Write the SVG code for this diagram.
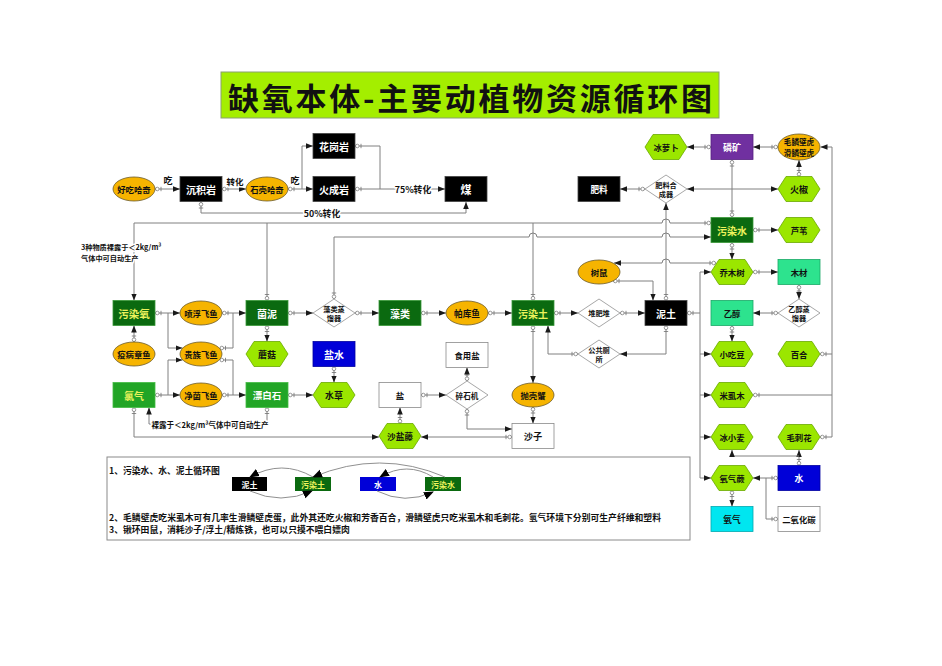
<svg xmlns="http://www.w3.org/2000/svg" width="942" height="666" viewBox="0 0 942 666">
<style>
.t{font-family:"Noto Sans CJK SC","Noto Sans",sans-serif;font-weight:bold;text-anchor:middle;dominant-baseline:central;font-size:10px}
.ts{font-size:8.4px}
.td{font-size:7.2px}
.w{fill:#fff}
.y{fill:#ecf25c}
.k{fill:#111}
.blk{fill:#000;stroke:#444;stroke-width:.8}
.dg{fill:#0b6a10;stroke:#3a9a3a;stroke-width:.8}
.mg{fill:#22a526;stroke:#44bb44;stroke-width:.8}
.sg{fill:#2de38e;stroke:#1aa866;stroke-width:.8}
.pu{fill:#7030a0;stroke:#55207f;stroke-width:.8}
.bl{fill:#0000d8;stroke:#0000a0;stroke-width:.8}
.cy{fill:#00e6f0;stroke:#00a8b0;stroke-width:.8}
.wb{fill:#fff;stroke:#8a8a8a;stroke-width:.8}
.hex{fill:#9be600;stroke:#6aa800;stroke-width:.8}
.ell{fill:#f6b400;stroke:#6b5a2a;stroke-width:.8}
.dia{fill:#fff;stroke:#909090;stroke-width:.8}
.ln{fill:none;stroke:#808080;stroke-width:1}
.lg{fill:none;stroke:#909090;stroke-width:1}
.lbl{font-family:"Noto Sans CJK SC","Noto Sans",sans-serif;font-weight:bold;fill:#111;paint-order:stroke;stroke:#fff;stroke-width:3px;stroke-linejoin:round;dominant-baseline:central}
.note{font-family:"Noto Sans CJK SC","Noto Sans",sans-serif;font-weight:bold;font-size:8.8px;fill:#111;dominant-baseline:central}
</style>
<defs>
<marker id="a" viewBox="0 0 8 8" refX="8" refY="4" markerWidth="7" markerHeight="7" markerUnits="userSpaceOnUse" orient="auto"><path d="M0,0.8 L8,4 L0,7.2z" fill="#1a1a1a"/></marker>
<marker id="s" viewBox="0 0 8 6" refX="0" refY="3" markerWidth="8" markerHeight="6" markerUnits="userSpaceOnUse" orient="auto"><circle cx="2.3" cy="3" r="1.8" fill="#fff" stroke="#707070" stroke-width=".7"/><path d="M6,0.8V5.2" stroke="#707070" stroke-width=".8"/></marker>
<marker id="aL" viewBox="0 0 10 10" refX="9" refY="5" markerWidth="10" markerHeight="10" markerUnits="userSpaceOnUse" orient="auto"><path d="M0,1 L10,5 L0,9z" fill="#000"/></marker>
<rect id="box" x="-21" y="-12.5" width="42" height="25"/>
<polygon id="hx" points="-21,0 -13,-12.5 13,-12.5 21,0 13,12.5 -13,12.5"/>
<ellipse id="el" rx="21" ry="12"/>
<polygon id="dm" points="-21,0 0,-14 21,0 0,14"/>
</defs>
<rect width="942" height="666" fill="#fff"/>

<g id="title">
<rect x="221" y="72" width="498" height="46" fill="#a4ee00" stroke="#8aa070" stroke-width="1"/>
<text x="470" y="96" font-family="'Noto Sans CJK SC',sans-serif" font-weight="bold" font-size="31" text-anchor="middle" dominant-baseline="central" textLength="484" lengthAdjust="spacing" fill="#111">缺氧本体-主要动植物资源循环图</text>
</g>

<g id="connectors">
<path class="ln" marker-start="url(#s)" marker-end="url(#a)" d="M155,189 H180"/>
<path class="ln" marker-start="url(#s)" marker-end="url(#a)" d="M222,189 H246"/>
<path class="ln" marker-start="url(#s)" marker-end="url(#a)" d="M288,189 H313"/>
<path class="ln" marker-end="url(#a)" d="M302,189 V146 H313"/>
<path class="ln" marker-start="url(#s)" marker-end="url(#a)" d="M355,189 H445"/>
<path class="ln" marker-start="url(#s)" d="M355,146 H380 V189"/>
<path class="ln" marker-start="url(#s)" marker-end="url(#a)" d="M201,202 V213 H466 V202"/>
<path class="ln" marker-start="url(#s)" marker-end="url(#a)" d="M711,147 H687"/>
<path class="ln" marker-start="url(#s)" marker-end="url(#a)" d="M778,147 H753"/>
<path class="ln" marker-start="url(#s)" marker-end="url(#a)" d="M645,189 H620"/>
<path class="ln" marker-end="url(#a)" d="M732,189 H687"/>
<path class="ln" marker-end="url(#a)" d="M732,189 H778"/>
<path class="ln" marker-start="url(#s)" d="M732,160 V189"/>
<path class="ln" marker-start="url(#s)" d="M732,217 V189"/>
<path class="ln" marker-start="url(#s)" marker-end="url(#a)" d="M799,176.5 V160"/>
<path class="ln" marker-start="url(#s)" marker-end="url(#a)" d="M753,230 H778"/>
<path class="ln" marker-start="url(#s)" marker-end="url(#a)" d="M732,243 V259.5"/>
<path class="ln" marker-start="url(#s)" marker-end="url(#a)" d="M753,272 H778"/>
<path class="ln" marker-start="url(#s)" marker-end="url(#a)" d="M799,285 V299"/>
<path class="ln" marker-start="url(#s)" marker-end="url(#a)" d="M778,313 H753"/>
<path class="ln" marker-start="url(#s)" marker-end="url(#a)" d="M732,326 V341.5"/>
<path class="ln" marker-start="url(#s)" marker-end="url(#a)" d="M716,263 H670 A4,4 0 0 0 662,263 H614"/>
<path class="ln" marker-start="url(#s)" marker-end="url(#a)" d="M613,281 H653 V300.5"/>
<path class="ln" marker-start="url(#s)" marker-end="url(#a)" d="M666,300.5 V203"/>
<path class="ln" marker-start="url(#s)" marker-end="url(#a)" d="M620,313 H645"/>
<path class="ln" marker-start="url(#s)" marker-end="url(#a)" d="M554,313 H578"/>
<path class="ln" marker-start="url(#s)" marker-end="url(#a)" d="M666,325.5 V354 H620"/>
<path class="ln" marker-start="url(#s)" marker-end="url(#a)" d="M578,354 H548 V325.5"/>
<path class="ln" marker-start="url(#s)" marker-end="url(#a)" d="M533,325.5 V383"/>
<path class="ln" marker-start="url(#s)" marker-end="url(#a)" d="M533,407 V423.5"/>
<path class="ln" marker-start="url(#s)" marker-end="url(#a)" d="M467,409 V429 H512"/>
<path class="ln" marker-start="url(#s)" marker-end="url(#a)" d="M512,437 H421"/>
<path class="ln" marker-start="url(#s)" marker-end="url(#a)" d="M400,423.5 V407.5"/>
<path class="ln" marker-start="url(#s)" marker-end="url(#a)" d="M421,395 H446"/>
<path class="ln" marker-start="url(#s)" marker-end="url(#a)" d="M467,381 V367.5"/>
<path class="ln" marker-start="url(#s)" marker-end="url(#a)" d="M134,407.5 V437 H379"/>
<path class="ln" marker-start="url(#s)" marker-end="url(#a)" d="M267,407.5 V424 H149 V407.5"/>
<path class="ln" marker-start="url(#s)" marker-end="url(#a)" d="M134,342 V325.5"/>
<path class="ln" marker-start="url(#s)" marker-end="url(#a)" d="M155,313 H180"/>
<path class="ln" marker-end="url(#a)" d="M168,313 V348 H182.5"/>
<path class="ln" marker-start="url(#s)" marker-end="url(#a)" d="M155,395 H180"/>
<path class="ln" marker-end="url(#a)" d="M168,395 V360 H182.5"/>
<path class="ln" marker-start="url(#s)" marker-end="url(#a)" d="M222,313 H246"/>
<path class="ln" marker-start="url(#s)" d="M219.5,348 H233 V313"/>
<path class="ln" marker-start="url(#s)" marker-end="url(#a)" d="M222,395 H246"/>
<path class="ln" marker-start="url(#s)" d="M219.5,360 H233 V395"/>
<path class="ln" marker-start="url(#s)" marker-end="url(#a)" d="M288,313 H313"/>
<path class="ln" marker-start="url(#s)" marker-end="url(#a)" d="M267,325.5 V341.5"/>
<path class="ln" marker-start="url(#s)" marker-end="url(#a)" d="M288,395 H313"/>
<path class="ln" marker-start="url(#s)" marker-end="url(#a)" d="M334,366.5 V382.5"/>
<path class="ln" marker-start="url(#s)" marker-end="url(#a)" d="M355,313 H379"/>
<path class="ln" marker-start="url(#s)" marker-end="url(#a)" d="M421,313 H446"/>
<path class="ln" marker-start="url(#s)" marker-end="url(#a)" d="M488,313 H512"/>
<path class="ln" marker-start="url(#s)" marker-end="url(#a)" d="M711,223 H670 A4,4 0 0 0 662,223 H134 V300.5"/>
<path class="ln" marker-start="url(#s)" d="M267,300.5 V223"/>
<path class="ln" marker-start="url(#s)" d="M533,300.5 V223"/>
<path class="ln" marker-start="url(#s)" marker-end="url(#a)" d="M334,299 V237 H529 A4,4 0 0 1 537,237 H662 A4,4 0 0 1 670,237 H711"/>
<path class="ln" marker-start="url(#s)" marker-end="url(#a)" d="M687,313 H700 V272 H711"/>
<path class="ln" marker-end="url(#a)" d="M700,313 V478 H711"/>
<path class="ln" marker-end="url(#a)" d="M700,354 H711"/>
<path class="ln" marker-end="url(#a)" d="M700,395 H711"/>
<path class="ln" marker-end="url(#a)" d="M700,437 H711"/>
<path class="ln" marker-start="url(#s)" marker-end="url(#a)" d="M799,465.5 V450"/>
<path class="ln" marker-end="url(#a)" d="M799,456 H732 V450"/>
<path class="ln" marker-start="url(#s)" marker-end="url(#a)" d="M778,478 H753"/>
<path class="ln" marker-start="url(#s)" d="M778,519 H766 V478"/>
<path class="ln" marker-start="url(#s)" marker-end="url(#a)" d="M732,490.5 V506.5"/>
<path class="ln" marker-start="url(#s)" marker-end="url(#a)" d="M820,437 H832 V147 H820.5"/>
<path class="ln" marker-start="url(#s)" d="M753,395 H832"/>
<path class="ln" marker-start="url(#s)" d="M820,354 H832"/>
</g>

<g id="labels">
<text class="lbl" x="168" y="180" font-size="9" text-anchor="middle">吃</text>
<text class="lbl" x="235" y="181" font-size="8.5" text-anchor="middle">转化</text>
<text class="lbl" x="295" y="180" font-size="9" text-anchor="middle">吃</text>
<text class="lbl" x="413" y="189" font-size="8.8" text-anchor="middle">75%转化</text>
<text class="lbl" x="322" y="213" font-size="8.8" text-anchor="middle">50%转化</text>
<text class="lbl" x="81" y="247" font-size="7.2">3种物质裸露于＜2kg/m³</text>
<text class="lbl" x="81" y="258" font-size="7.2">气体中可自动生产</text>
<text class="lbl" x="210" y="424" font-size="7.5" text-anchor="middle">裸露于＜2kg/m³气体中可自动生产</text>
</g>

<g id="n-haochihaqi"><use href="#el" class="ell" x="134" y="189"/><text class="t ts k" x="134" y="189">好吃哈奇</text></g>
<g id="n-chenjiyan"><use href="#box" class="blk" x="201" y="189"/><text class="t w" x="201" y="189">沉积岩</text></g>
<g id="n-shikehaqi"><use href="#el" class="ell" x="267" y="189"/><text class="t ts k" x="267" y="189">石壳哈奇</text></g>
<g id="n-huagangyan"><use href="#box" class="blk" x="334" y="146"/><text class="t w" x="334" y="146">花岗岩</text></g>
<g id="n-huochengyan"><use href="#box" class="blk" x="334" y="189"/><text class="t w" x="334" y="189">火成岩</text></g>
<g id="n-mei"><use href="#box" class="blk" x="466" y="189"/><text class="t w" x="466" y="189" style="font-size:11px">煤</text></g>
<g id="n-feiliao"><use href="#box" class="blk" x="599" y="189"/><text class="t w" x="599" y="189" style="font-size:8.6px">肥料</text></g>
<g id="n-feiliaohechengqi"><use href="#dm" class="dia" x="666" y="189"/><text class="t td k" x="666" y="184.5">肥料合</text><text class="t td k" x="666" y="194">成器</text></g>
<g id="n-binluobo"><use href="#hx" class="hex" x="666" y="147"/><text class="t ts k" x="666" y="147">冰萝卜</text></g>
<g id="n-linkuang"><use href="#box" class="pu" x="732" y="147"/><text class="t w" x="732" y="147" style="font-size:9px">磷矿</text></g>
<g id="n-maolinbihu"><ellipse class="ell" cx="799" cy="147" rx="21" ry="13"/><text class="t k" x="799" y="141.5" style="font-size:7.6px">毛鳞壁虎</text><text class="t k" x="799" y="152.5" style="font-size:7.6px">滑鳞壁虎</text></g>
<g id="n-huojiao"><use href="#hx" class="hex" x="799" y="189"/><text class="t k" x="799" y="189" style="font-size:9px">火椒</text></g>
<g id="n-wuranshui"><use href="#box" class="dg" x="732" y="230"/><text class="t y" x="732" y="230">污染水</text></g>
<g id="n-luwei"><use href="#hx" class="hex" x="799" y="230"/><text class="t ts k" x="799" y="230">芦苇</text></g>
<g id="n-shushu"><use href="#el" class="ell" x="599" y="272"/><text class="t ts k" x="599" y="272">树鼠</text></g>
<g id="n-qiaomushu"><use href="#hx" class="hex" x="732" y="272"/><text class="t ts k" x="732" y="272">乔木树</text></g>
<g id="n-mucai"><use href="#box" class="sg" x="799" y="272"/><text class="t ts k" x="799" y="272">木材</text></g>
<g id="n-wuranyang"><use href="#box" class="dg" x="134" y="313"/><text class="t y" x="134" y="313" style="font-size:10.5px">污染氧</text></g>
<g id="n-penfufeiyu"><use href="#el" class="ell" x="201" y="313"/><text class="t ts k" x="201" y="313">喷浮飞鱼</text></g>
<g id="n-junni"><use href="#box" class="dg" x="267" y="313"/><text class="t w" x="267" y="313">菌泥</text></g>
<g id="n-zaoleizhengliuqi"><use href="#dm" class="dia" x="334" y="313"/><text class="t td k" x="334" y="308.5">藻类蒸</text><text class="t td k" x="334" y="318">馏器</text></g>
<g id="n-zaolei"><use href="#box" class="dg" x="400" y="313"/><text class="t w" x="400" y="313">藻类</text></g>
<g id="n-pakuyu"><use href="#el" class="ell" x="467" y="313"/><text class="t k" x="467" y="313" style="font-size:8.7px">帕库鱼</text></g>
<g id="n-wurantu"><use href="#box" class="dg" x="533" y="313"/><text class="t y" x="533" y="313">污染土</text></g>
<g id="n-duifeidui"><use href="#dm" class="dia" x="599" y="313"/><text class="t td k" x="599" y="313">堆肥堆</text></g>
<g id="n-nitu"><use href="#box" class="blk" x="666" y="313"/><text class="t w" x="666" y="313">泥土</text></g>
<g id="n-yichun"><use href="#box" class="sg" x="732" y="313"/><text class="t ts k" x="732" y="313">乙醇</text></g>
<g id="n-yichunzhengliuqi"><use href="#dm" class="dia" x="799" y="313"/><text class="t td k" x="799" y="308.5">乙醇蒸</text><text class="t td k" x="799" y="318">馏器</text></g>
<g id="n-yibingzhangyu"><use href="#el" class="ell" x="134" y="354"/><text class="t ts k" x="134" y="354">疫病章鱼</text></g>
<g id="n-guizufeiyu"><use href="#el" class="ell" x="201" y="354"/><text class="t ts k" x="201" y="354">贵族飞鱼</text></g>
<g id="n-mogu"><use href="#hx" class="hex" x="267" y="354"/><text class="t k" x="267" y="354" style="font-size:9px">蘑菇</text></g>
<g id="n-yanshui"><use href="#box" class="bl" x="334" y="354"/><text class="t w" x="334" y="354">盐水</text></g>
<g id="n-shiyongyan"><use href="#box" class="wb" x="467" y="355"/><text class="t ts k" x="467" y="355">食用盐</text></g>
<g id="n-gonggongcesuo"><use href="#dm" class="dia" x="599" y="354"/><text class="t td k" x="599" y="349.5">公共厕</text><text class="t td k" x="599" y="359">所</text></g>
<g id="n-xiaochidou"><use href="#hx" class="hex" x="732" y="354"/><text class="t ts k" x="732" y="354">小吃豆</text></g>
<g id="n-baihe"><use href="#hx" class="hex" x="799" y="354"/><text class="t ts k" x="799" y="354">百合</text></g>
<g id="n-lvqi"><use href="#box" class="mg" x="134" y="395"/><text class="t y" x="134" y="395">氯气</text></g>
<g id="n-jingjunfeiyu"><use href="#el" class="ell" x="201" y="395"/><text class="t ts k" x="201" y="395">净菌飞鱼</text></g>
<g id="n-piaobaishi"><use href="#box" class="mg" x="267" y="395"/><text class="t w" x="267" y="395" style="font-size:9.5px">漂白石</text></g>
<g id="n-shuicao"><use href="#hx" class="hex" x="334" y="395"/><text class="t k" x="334" y="395" style="font-size:9px">水草</text></g>
<g id="n-yan"><use href="#box" class="wb" x="400" y="395"/><text class="t ts k" x="400" y="395">盐</text></g>
<g id="n-suishiji"><use href="#dm" class="dia" x="467" y="395"/><text class="t k" x="467" y="395" style="font-size:7.6px">碎石机</text></g>
<g id="n-paokexie"><use href="#el" class="ell" x="533" y="395"/><text class="t ts k" x="533" y="395">抛壳蟹</text></g>
<g id="n-mishimu"><use href="#hx" class="hex" x="732" y="395"/><text class="t ts k" x="732" y="395">米虱木</text></g>
<g id="n-shayanteng"><use href="#hx" class="hex" x="400" y="436"/><text class="t k" x="400" y="436" style="font-size:8.7px">沙盐藤</text></g>
<g id="n-shazi"><use href="#box" class="wb" x="533" y="436"/><text class="t k" x="533" y="436" style="font-size:9.2px">沙子</text></g>
<g id="n-binxiaomai"><use href="#hx" class="hex" x="732" y="437"/><text class="t ts k" x="732" y="437">冰小麦</text></g>
<g id="n-maocihua"><use href="#hx" class="hex" x="799" y="437"/><text class="t ts k" x="799" y="437">毛刺花</text></g>
<g id="n-yangqijue"><use href="#hx" class="hex" x="732" y="478"/><text class="t ts k" x="732" y="478">氧气蕨</text></g>
<g id="n-shui"><use href="#box" class="bl" x="799" y="478"/><text class="t w" x="799" y="478" style="font-size:9px">水</text></g>
<g id="n-yangqi"><use href="#box" class="cy" x="732" y="519"/><text class="t k" x="732" y="519" style="font-size:8.7px">氧气</text></g>
<g id="n-eryanghuatan"><use href="#box" class="wb" x="799" y="519"/><text class="t ts k" x="799" y="519">二氧化碳</text></g>

<g id="legend">
<rect x="107" y="457" width="583" height="83" fill="#fff" stroke="#8a8a8a" stroke-width="1"/>
<text class="note" x="109" y="470">1、污染水、水、泥土循环图</text>
<rect x="232" y="477" width="35" height="14" fill="#000"/>
<text class="t w" x="249.5" y="484" style="font-size:8px">泥土</text>
<rect x="295" y="477" width="36" height="14" fill="#0b6a10"/>
<text class="t y" x="313" y="484" style="font-size:8px">污染土</text>
<rect x="360" y="477" width="36" height="14" fill="#0000d8"/>
<text class="t w" x="378" y="484" style="font-size:8px">水</text>
<rect x="425" y="477" width="36" height="14" fill="#0b6a10"/>
<text class="t y" x="443" y="484" style="font-size:8px">污染水</text>
<path class="lg" marker-end="url(#aL)" d="M313,477 Q282,459 250,477"/>
<path class="lg" marker-end="url(#aL)" d="M250,491 Q281,505 312,491"/>
<path class="lg" marker-end="url(#aL)" d="M445,477 Q380,449 313,477"/>
<path class="lg" marker-end="url(#aL)" d="M433,477 Q407,461 380,477"/>
<path class="lg" marker-end="url(#aL)" d="M377,491 Q405,505 433,492"/>
<text class="note" x="109" y="517" textLength="552" lengthAdjust="spacing">2、毛鳞壁虎吃米虱木可有几率生滑鳞壁虎蛋，此外其还吃火椒和芳香百合，滑鳞壁虎只吃米虱木和毛刺花。氢气环境下分别可生产纤维和塑料</text>
<text class="note" x="109" y="529">3、锹环田鼠，消耗沙子/浮土/精炼铁，也可以只摸不喂白嫖肉</text>
</g>
</svg>
